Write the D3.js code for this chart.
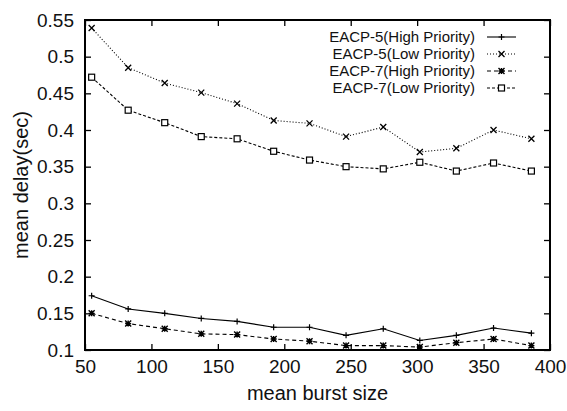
<!DOCTYPE html>
<html>
<head>
<meta charset="utf-8">
<script src="https://cdn.jsdelivr.net/npm/d3@7"></script>
<style>
  body { margin: 0; background: #fff; }
  svg { display: block; font-family: "Liberation Sans", Arial, sans-serif; }
</style>
</head>
<body>
<div id="chart"></div>
<script>
// burst sizes (x) and mean delays for each scheme
var burstSize = [55, 82.5, 110, 137.5, 164.5, 192, 219, 246.5, 274.5, 302, 329.5, 357.5, 386];
var eacp5High = [0.174, 0.156, 0.150, 0.143, 0.139, 0.131, 0.131, 0.120, 0.129, 0.113, 0.120, 0.130, 0.123];
var eacp5Low  = [0.539, 0.485, 0.464, 0.451, 0.436, 0.413, 0.409, 0.391, 0.404, 0.370, 0.375, 0.400, 0.388];
var eacp7High = [0.150, 0.136, 0.129, 0.122, 0.121, 0.115, 0.112, 0.106, 0.106, 0.104, 0.110, 0.115, 0.106];
var eacp7Low  = [0.472, 0.427, 0.410, 0.391, 0.388, 0.371, 0.359, 0.350, 0.347, 0.356, 0.344, 0.355, 0.344];
var seriesNames = ["EACP-5(High Priority)", "EACP-5(Low Priority)", "EACP-7(High Priority)", "EACP-7(Low Priority)"];
var xTicks = [50, 100, 150, 200, 250, 300, 350, 400];
var yTicks = [0.1, 0.15, 0.2, 0.25, 0.3, 0.35, 0.4, 0.45, 0.5, 0.55];

var fullWidth = 567, fullHeight = 411;
var margin = {top: 20, right: 17, bottom: 61, left: 85},
    width  = fullWidth - margin.left - margin.right,
    height = fullHeight - margin.top - margin.bottom;

var svg = d3.select("#chart").append("svg")
    .attr("width", fullWidth)
    .attr("height", fullHeight);

var g = svg.append("g")
    .attr("transform", "translate(" + margin.left + "," + margin.top + ")");

var x = d3.scaleLinear().domain([50, 400]).range([0, width]);
var y = d3.scaleLinear().domain([0.1, 0.55]).range([height, 0]);

// inward ticks on all four sides, gnuplot style
var tick = 6;
g.append("g")
    .attr("transform", "translate(0," + height + ")")
    .call(d3.axisBottom(x).tickValues(xTicks).tickSizeInner(-tick).tickSizeOuter(0).tickPadding(10).tickFormat(d3.format("d")))
    .call(function(a) { a.select(".domain").remove(); });
g.append("g")
    .call(d3.axisTop(x).tickValues(xTicks).tickSizeInner(-tick).tickSizeOuter(0).tickFormat(""))
    .call(function(a) { a.select(".domain").remove(); });
g.append("g")
    .call(d3.axisLeft(y).tickValues(yTicks).tickSizeInner(-tick).tickSizeOuter(0).tickPadding(11).tickFormat(function(d) { return String(+d.toFixed(2)); }))
    .call(function(a) { a.select(".domain").remove(); });
g.append("g")
    .attr("transform", "translate(" + width + ",0)")
    .call(d3.axisRight(y).tickValues(yTicks).tickSizeInner(-tick).tickSizeOuter(0).tickFormat(""))
    .call(function(a) { a.select(".domain").remove(); });

g.selectAll(".tick line").attr("stroke", "#000").attr("stroke-width", 1.3);
g.selectAll(".tick text").attr("font-size", 19).attr("fill", "#111")
    .attr("font-family", "Liberation Sans, Arial, sans-serif");

g.append("rect")
    .attr("width", width).attr("height", height)
    .attr("fill", "none").attr("stroke", "#000").attr("stroke-width", 2);

// axis titles
svg.append("text")
    .attr("x", margin.left + width / 2).attr("y", 400)
    .attr("text-anchor", "middle").attr("font-size", 20).attr("fill", "#111")
    .text("mean burst size");
svg.append("text")
    .attr("transform", "translate(28," + (margin.top + height / 2) + ") rotate(-90)")
    .attr("text-anchor", "middle").attr("font-size", 20).attr("fill", "#111")
    .text("mean delay(sec)");

var series = [
  {name: seriesNames[0], values: eacp5High, dash: null,  marker: "plus"},
  {name: seriesNames[1], values: eacp5Low,  dash: "1,2", marker: "cross"},
  {name: seriesNames[2], values: eacp7High, dash: "4,3", marker: "star"},
  {name: seriesNames[3], values: eacp7Low,  dash: "3,2", marker: "box"}
];

var line = d3.line()
    .x(function(d, i) { return x(burstSize[i]); })
    .y(function(d) { return y(d); });

function drawMarker(sel, kind, cx, cy) {
  var s = 3;
  if (kind === "plus") {
    sel.append("path").attr("d", "M" + (cx - s) + "," + cy + "H" + (cx + s) + "M" + cx + "," + (cy - s) + "V" + (cy + s))
      .attr("stroke", "#000").attr("stroke-width", 1.2);
  } else if (kind === "cross") {
    sel.append("path").attr("d", "M" + (cx - s) + "," + (cy - s) + "L" + (cx + s) + "," + (cy + s) + "M" + (cx - s) + "," + (cy + s) + "L" + (cx + s) + "," + (cy - s))
      .attr("stroke", "#000").attr("stroke-width", 1.3);
  } else if (kind === "star") {
    sel.append("path").attr("d", "M" + (cx - s) + "," + cy + "H" + (cx + s) + "M" + cx + "," + (cy - s) + "V" + (cy + s) +
        "M" + (cx - s) + "," + (cy - s) + "L" + (cx + s) + "," + (cy + s) + "M" + (cx - s) + "," + (cy + s) + "L" + (cx + s) + "," + (cy - s))
      .attr("stroke", "#000").attr("stroke-width", 1.4);
  } else {
    sel.append("rect").attr("x", cx - s).attr("y", cy - s).attr("width", 2 * s).attr("height", 2 * s)
      .attr("fill", "#fff").attr("stroke", "#000").attr("stroke-width", 1.2);
  }
}

series.forEach(function(s) {
  g.append("path")
    .datum(s.values)
    .attr("fill", "none")
    .attr("stroke", "#000")
    .attr("stroke-width", 1.1)
    .attr("stroke-dasharray", s.dash)
    .attr("d", line);
  var m = g.append("g");
  s.values.forEach(function(v, i) { drawMarker(m, s.marker, x(burstSize[i]), y(v)); });
});

// legend
var legend = svg.append("g");
series.forEach(function(s, i) {
  var ly = 37 + i * 17;
  legend.append("text")
    .attr("x", 475).attr("y", ly).attr("dy", "0.35em")
    .attr("text-anchor", "end").attr("font-size", 15).attr("fill", "#111")
    .text(s.name);
  legend.append("line")
    .attr("x1", 487).attr("x2", 516).attr("y1", ly).attr("y2", ly)
    .attr("stroke", "#000").attr("stroke-width", 1.1)
    .attr("stroke-dasharray", s.dash);
  drawMarker(legend, s.marker, 501.5, ly);
});
</script>
</body>
</html>
